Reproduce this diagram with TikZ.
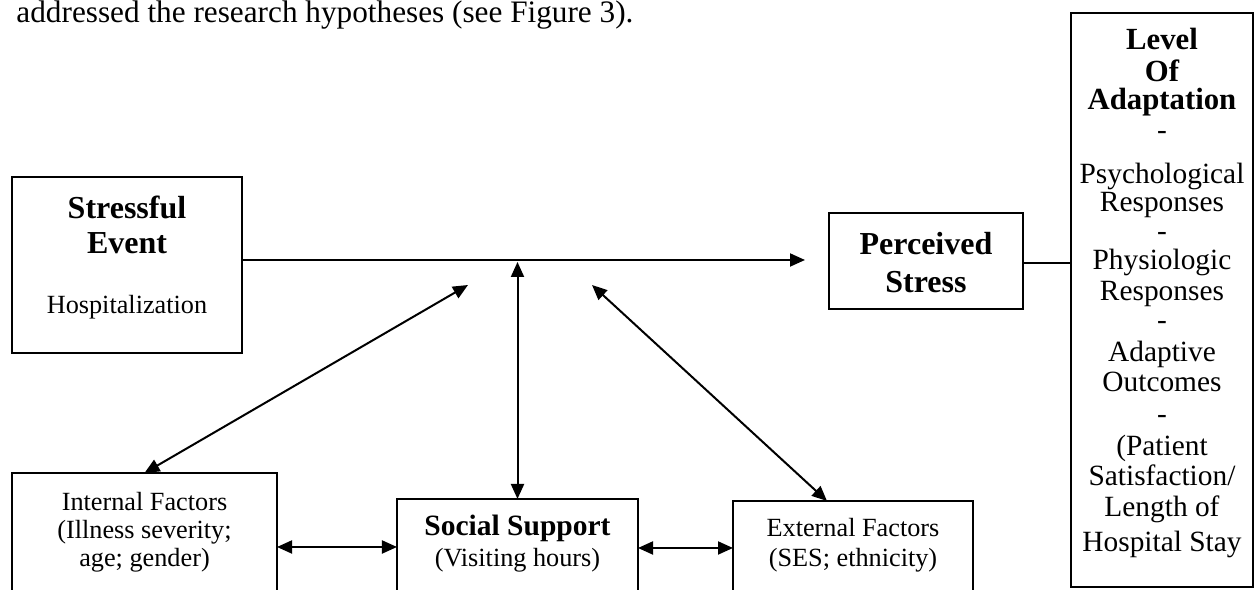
\documentclass[tikz,border=0pt]{standalone}
\usepackage{fontspec}
\setmainfont{Liberation Serif}
\usetikzlibrary{arrows.meta,calc}
\begin{document}
\begin{tikzpicture}[x=0.4pt,y=-0.4pt,
  boxst/.style={draw, line width=0.9pt, inner sep=0pt, outer sep=0pt},
  conn/.style={line width=0.8pt},
  arrowone/.style={-{Triangle[length=6pt,width=5.2pt]}},
  arrowboth/.style={{Triangle[length=6pt,width=5.2pt]}-{Triangle[length=6pt,width=5.2pt]}},
  ttl/.style={font=\fontsize{12.8pt}{14pt}\selectfont\bfseries, inner sep=0pt},
  ttlsm/.style={font=\fontsize{11.8pt}{14pt}\selectfont\bfseries, inner sep=0pt},
  sml/.style={font=\fontsize{10.5pt}{12pt}\selectfont, inner sep=0pt},
  lvtxt/.style={font=\fontsize{11.75pt}{13pt}\selectfont, text height=0.7em, text depth=0.2em, inner sep=0pt},
  lvbold/.style={font=\fontsize{12.3pt}{13pt}\selectfont\bfseries, text height=0.7em, text depth=0.2em, inner sep=0pt}]
\useasboundingbox (0,0) rectangle (1256,590);
\fill[white] (0,0) rectangle (1256,590);
\clip (0,0) rectangle (1256,590);

% intro text
\node[anchor=base west, inner sep=0pt, font=\fontsize{12.5pt}{15pt}\selectfont] (intro) at (16,23) {addressed the research hypotheses (see Figure 3).};

% boxes
\node[boxst, minimum width=92pt, minimum height=70.4pt] (se) at (127,265) {};
\node[boxst, minimum width=77.6pt, minimum height=38.4pt] (ps) at (926,261) {};
\node[boxst, minimum width=72.8pt, minimum height=229.6pt] (lv) at (1162,300) {};
\node[boxst, minimum width=106pt, minimum height=50.8pt] (inf) at (144.5,536.5) {};
\node[boxst, minimum width=96.4pt, minimum height=40.4pt] (ss) at (517.5,549.5) {};
\node[boxst, minimum width=96pt, minimum height=39.6pt] (ef) at (853,550.5) {};

% texts
\node[ttl] (se1) at (127,207) {Stressful};
\node[ttl] (se2) at (127,243) {Event};
\node[sml] (se3) at (127,307) {Hospitalization};
\node[ttl] (ps1) at (926,244) {Perceived};
\node[ttl] (ps2) at (926,282) {Stress};
\node[sml] (inf1) at (144.5,502) {Internal Factors};
\node[sml] (inf2) at (144.5,532) {(Illness severity;};
\node[sml] (inf3) at (144.5,560) {age; gender)};
\node[ttlsm] (ss1) at (517.5,528) {Social Support};
\node[sml] (ss2) at (517.5,560) {(Visiting hours)};
\node[sml] (ef1) at (853,528) {External Factors};
\node[sml] (ef2) at (853,560) {(SES; ethnicity)};

\foreach \yy/\tt [count=\i] in {43/Level, 75/Of, 103/Adaptation}
  \node[lvbold] (lvb\i) at (1162,\yy) {\tt};
\foreach \yy/\tt [count=\i] in {133/-, 177/Psychological, 205/Responses, 234/-, 263/Physiologic, 294/Responses, 323/-, 355/Adaptive, 385/Outcomes, 417/-, 449/(Patient, 479/{Satisfaction/}, 510/Length of, 545/Hospital Stay}
  \node[lvtxt] (lvt\i) at (1162,\yy) {\tt};

% coordinates
\coordinate (rowA) at (0,260);
\coordinate (mainend) at (805,260);
\coordinate (prow) at (0,263);
\coordinate (vtop) at (0,262);
\coordinate (ltip) at (468,285);
\coordinate (rtip) at (592,285);
\coordinate (hrow) at (0,547);
\coordinate (hrowb) at (0,548);

% connectors
\draw[conn, arrowone] (se.east |- rowA) -- (mainend);
\draw[conn] (ps.east |- prow) -- (lv.west |- prow);
\draw[conn, arrowboth] (ss.north) -- (ss.north |- vtop);
\draw[conn, arrowboth] (inf.north) -- (ltip);
\draw[conn, arrowboth] ($(ef.north)+(-26,0)$) -- (rtip);
\draw[conn, arrowboth] (inf.east |- hrow) -- (ss.west |- hrow);
\draw[conn, arrowboth] (ss.east |- hrowb) -- (ef.west |- hrowb);
\end{tikzpicture}
\end{document}
